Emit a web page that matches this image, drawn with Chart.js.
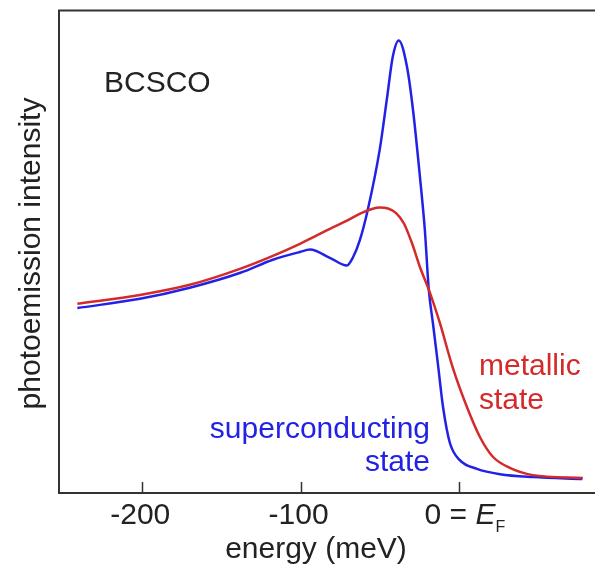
<!DOCTYPE html>
<html>
<head>
<meta charset="utf-8">
<script src="https://cdn.jsdelivr.net/npm/chart.js@4.4.1/dist/chart.umd.min.js"></script>
<style>
  html, body { margin: 0; padding: 0; background: #fff; }
  #wrap { width: 595px; height: 572px; position: relative; }
</style>
</head>
<body>
<div id="wrap"><canvas id="spec"></canvas></div>
<script>
// metallic state (red), energy in meV vs intensity (arb. units, 0..100)
const energyMetal    = [-241, -201.5, -170, -138.3, -117.5, -100.4, -92.2, -81.5, -70.7, -61.3, -54.9, -49.9, -44.8, -39.8, -34.7, -29.7, -24.6, -18.3, -12, -3.8, 5.1, 13.3, 21.5, 32.2, 46.7, 78.3];
const intensityMetal = [39.2, 41.0, 43.1, 46.4, 49.1, 51.6, 52.9, 54.7, 56.4, 58.0, 58.8, 59.1, 58.9, 58.0, 55.8, 51.8, 46.8, 41.5, 35.2, 25.9, 17.8, 11.6, 7.5, 5.2, 3.7, 3.1];

// superconducting state (blue)
const energySC    = [-241, -201.5, -170, -138, -117.5, -100.5, -94, -81.5, -70.7, -67, -62.5, -57.5, -50, -45.5, -41.7, -38, -32.8, -29, -24.6, -21.5, -19, -16.4, -13.3, -10, -5.7, 0.6, 11.4, 26, 47, 78];
const intensitySC = [38.3, 40.2, 42.5, 45.6, 48.3, 49.9, 50.4, 48.7, 47.1, 48.7, 52.4, 58.7, 71.1, 81.5, 90.4, 93.7, 88.3, 79.4, 65.5, 54.5, 42.1, 35.2, 26.9, 17.8, 10.4, 6.8, 5.0, 3.9, 3.3, 2.9];

const xTicks = [-200, -100, 0];
const xTickLabels = ['-200', '-100', '0 = '];

const FONT = '"Liberation Sans", Arial, Helvetica, sans-serif';
const BLUE = '#2222e6';
const RED = '#d42a2a';
const INK = '#222';

function pts(xs, ys){ return xs.map((x, i) => ({ x: x, y: ys[i] })); }

const framePlugin = {
  id: 'frame',
  afterDraw(chart){
    const ctx = chart.ctx;
    const a = chart.chartArea;
    const xs = chart.scales.x;
    ctx.save();
    ctx.strokeStyle = '#333';
    ctx.lineWidth = 2;
    ctx.beginPath();
    ctx.moveTo(595, a.top + 0.5);
    ctx.lineTo(a.left, a.top + 0.5);
    ctx.lineTo(a.left, a.bottom);
    ctx.lineTo(595, a.bottom);
    ctx.stroke();
    // inward ticks
    ctx.lineWidth = 1.5;
    xTicks.forEach(v => {
      const px = Math.round(xs.getPixelForValue(v)) + 0.5;
      ctx.beginPath();
      ctx.moveTo(px, a.bottom);
      ctx.lineTo(px, a.bottom - 11);
      ctx.stroke();
    });

    ctx.fillStyle = INK;
    ctx.font = '30px ' + FONT;
    ctx.textBaseline = 'alphabetic';
    xTicks.forEach((v, i) => {
      const px = xs.getPixelForValue(v);
      if (v === 0) {
        // "0 = E_F" with italic E and subscript F
        const w0 = ctx.measureText(xTickLabels[i]).width;
        ctx.font = 'italic 30px ' + FONT;
        const wE = ctx.measureText('E').width;
        ctx.font = '16px ' + FONT;
        const wF = ctx.measureText('F').width;
        let x0 = px - (w0 + wE + wF) / 2 + 6;
        ctx.font = '30px ' + FONT;
        ctx.textAlign = 'left';
        ctx.fillText(xTickLabels[i], x0, 524);
        ctx.font = 'italic 30px ' + FONT;
        ctx.fillText('E', x0 + w0, 524);
        ctx.font = '16px ' + FONT;
        ctx.fillText('F', x0 + w0 + wE, 532);
        ctx.font = '30px ' + FONT;
      } else {
        ctx.textAlign = 'center';
        ctx.fillText(xTickLabels[i], px - 2, 524);
      }
    });

    // axis titles
    ctx.textAlign = 'center';
    ctx.fillText('energy (meV)', 316, 558);
    ctx.save();
    ctx.translate(40, (a.top + a.bottom) / 2 + 2);
    ctx.rotate(-Math.PI / 2);
    ctx.fillText('photoemission intensity', 0, 0);
    ctx.restore();

    // annotations
    ctx.textAlign = 'left';
    ctx.fillText('BCSCO', 104, 92);
    ctx.fillStyle = BLUE;
    ctx.textAlign = 'right';
    ctx.fillText('superconducting', 430, 438);
    ctx.fillText('state', 430, 471);
    ctx.fillStyle = RED;
    ctx.textAlign = 'left';
    ctx.fillText('metallic', 479, 375);
    ctx.fillText('state', 479, 409);
    ctx.restore();
  }
};

new Chart(document.getElementById('spec').getContext('2d'), {
  type: 'line',
  data: {
    datasets: [
      {
        label: 'metallic state',
        data: pts(energyMetal, intensityMetal),
        borderColor: RED,
        borderWidth: 2.5,
        pointRadius: 0,
        cubicInterpolationMode: 'monotone',
        fill: false
      },
      {
        label: 'superconducting state',
        data: pts(energySC, intensitySC),
        borderColor: BLUE,
        borderWidth: 2.5,
        pointRadius: 0,
        cubicInterpolationMode: 'monotone',
        fill: false
      }
    ]
  },
  options: {
    responsive: true,
    maintainAspectRatio: false,
    animation: false,
    layout: { padding: { left: 59, top: 10, right: 0, bottom: 79 } },
    plugins: { legend: { display: false }, tooltip: { enabled: false } },
    scales: {
      x: { type: 'linear', min: -252.6, max: 86, display: false },
      y: { min: 0, max: 100, display: false }
    }
  },
  plugins: [framePlugin]
});
</script>
</body>
</html>
